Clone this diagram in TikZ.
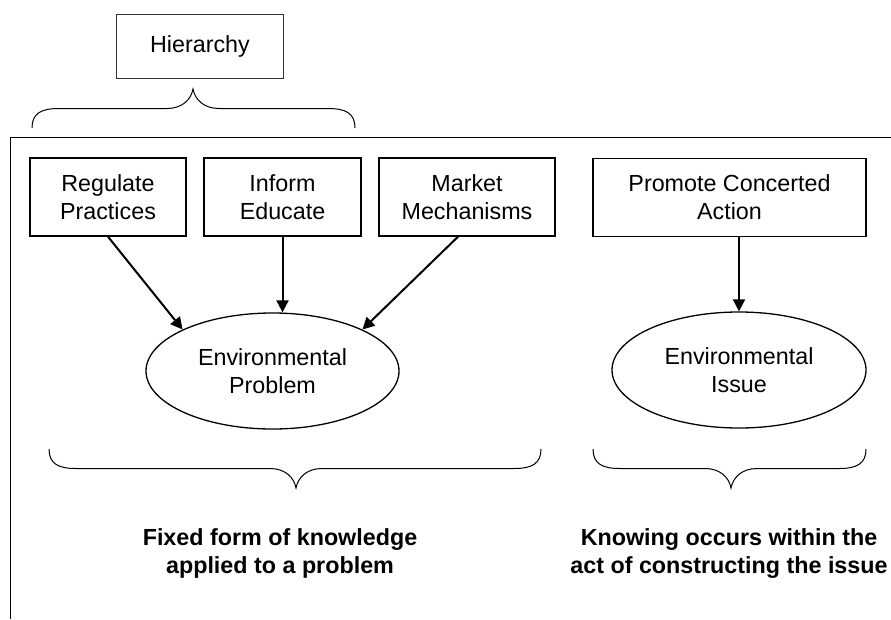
\documentclass[tikz,border=0pt]{standalone}
\usepackage{fontspec}
\setmainfont{Liberation Sans}
\usetikzlibrary{shapes.geometric,arrows.meta,calc}

% curly brace: x start, x end, x tip, y of ends, y of tip
\newcommand{\curly}[5]{%
  \pgfmathsetmacro\ymid{(#4+#5)/2}
  \draw[thinline] (#1,#4) .. controls (#1,{#4+0.75*(\ymid-#4)}) and ({#1+9},\ymid) .. ({#1+27},\ymid)
    -- ({#3-26},\ymid) .. controls ({#3-11},\ymid) and ({#3-2},{\ymid+0.45*(#5-\ymid)}) .. (#3,#5)
    .. controls ({#3+2},{\ymid+0.45*(#5-\ymid)}) and ({#3+11},\ymid) .. ({#3+26},\ymid)
    -- ({#2-27},\ymid) .. controls ({#2-9},\ymid) and (#2,{#4+0.75*(\ymid-#4)}) .. (#2,#4);}

\begin{document}
\begin{tikzpicture}[x=1pt,y=-1pt,
    font=\fontsize{23.3}{28}\selectfont,
    box/.style={draw,line width=1.4pt,align=center,inner sep=0pt,minimum height=78pt},
    oval/.style={draw,ellipse,line width=1.3pt,align=center,inner sep=0pt,minimum width=253pt,minimum height=116pt},
    link/.style={line width=2pt,-{Triangle[length=12pt,width=12pt]}},
    thinline/.style={line width=1pt},
    note/.style={font=\fontsize{23.3}{28.5}\selectfont\bfseries,align=center}]
    \useasboundingbox (0,0) rectangle (891,619);
    % outer frame
    \draw[thinline] (891,137) -- (10,137) -- (10,619);
    \node[draw,thinline,draw=black!80,inner sep=0pt,minimum width=167pt,minimum height=64pt] (hier) at (200,46) {Hierarchy};
    \curly{32}{355}{193}{128}{89}
    % boxes
    \node[box,minimum width=156pt] (reg) at (108,197) {Regulate\\Practices};
    \node[box,minimum width=157pt] (inf) at (282.5,197) {Inform\\Educate};
    \node[box,minimum width=176pt] (mkt) at (467,197) {Market\\Mechanisms};
    \node[box,minimum width=273pt] (prom) at (729.5,197.5) {Promote Concerted\\Action};
    \node[oval] (prob) at (272.5,371) {Environmental\\Problem};
    \node[oval,minimum width=254pt] (iss) at (739,370) {Environmental\\Issue};
    % arrows
    \draw[link] (reg.south) -- (prob.north west);
    \draw[link] (inf.south) -- (inf.south |- prob.north);
    \draw[link] ($(mkt.south)+(-9,0)$) -- (prob.north east);
    \draw[link] (iss.north |- prom.south) -- (iss.north);
    % lower braces and notes
    \curly{49}{541}{296}{449}{488}
    \curly{593}{866}{731}{449}{488}
    \node[note] (fixed) at (280,553.5) {Fixed form of knowledge\\applied to a problem};
    \node[note] (know) at (729,553.5) {Knowing occurs within the\\act of constructing the issue};
\end{tikzpicture}
\end{document}
